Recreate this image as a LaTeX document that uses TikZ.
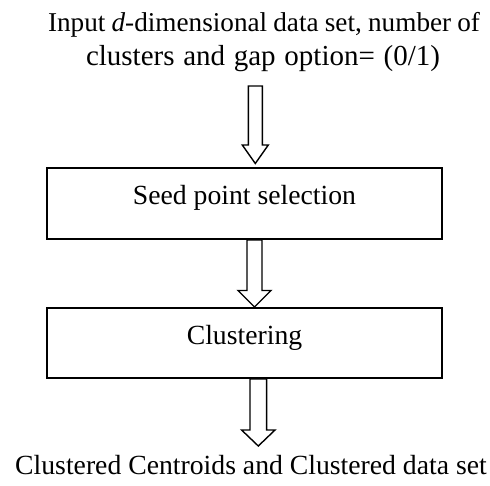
\documentclass[tikz,border=0pt]{standalone}
\usepackage{fontspec}
\setmainfont{Liberation Serif}
\usetikzlibrary{calc}
\tikzset{
  lbl/.style={font=\fontsize{27.7}{30}\selectfont, inner sep=0pt, anchor=base},
  stepbox/.style={draw, line width=2pt, minimum width=395pt, minimum height=71pt,
    inner sep=0pt, text height=10pt, text depth=8pt, font=\fontsize{27.7}{30}\selectfont},
  harrow/.style={draw, line width=1.4pt, line join=miter}
}
% start, tip, half shaft width, half head width, head length
\newcommand\hollowarrow[5]{%
  \path[harrow] let \p1=(#1), \p2=(#2) in
    (\x1-#3pt,\y1) -- (\x1-#3pt,\y2+#5pt) -- (\x1-#4pt,\y2+#5pt) -- (\x2,\y2)
    -- (\x1+#4pt,\y2+#5pt) -- (\x1+#3pt,\y2+#5pt) -- (\x1+#3pt,\y1) -- cycle;}
\begin{document}
\begin{tikzpicture}[x=1pt,y=-1pt]
  \useasboundingbox (0,0) rectangle (490,485);
  \node[lbl, font=\fontsize{27.2}{30}\selectfont] (in1) at (264,31.5)
    {\makebox[432pt][s]{Input \textit{d}-dimensional data set, number of}};
  \node[lbl, font=\fontsize{29}{30}\selectfont] (in2) at (263,65)
    {\makebox[354pt][s]{clusters and gap option= (0/1)}};
  \node[stepbox] (seed) at (244.5,203.5) {Seed point selection};
  \node[stepbox, minimum height=70pt] (clus) at (244.5,343) {Clustering};
  \node[lbl] (out) at (251,474.3) {Clustered Centroids and Clustered data set};

  \coordinate (a1s) at ($(in2.base)+(-7.7,21)$);
  \coordinate (a1t) at ($(seed.north)+(10.8,-3.5)$);
  \coordinate (a2s) at ($(seed.south)+(10,0)$);
  \coordinate (a2t) at ($(clus.north)+(10,0)$);
  \coordinate (a3s) at ($(clus.south)+(13.8,0)$);
  \coordinate (a3t) at ($(out.base)+(7.3,-28.3)$);

  \hollowarrow{a1s}{a1t}{7}{13}{18.5}
  \hollowarrow{a2s}{a2t}{7.5}{16.5}{16.5}
  \hollowarrow{a3s}{a3t}{8.3}{16.7}{16}
\end{tikzpicture}
\end{document}
